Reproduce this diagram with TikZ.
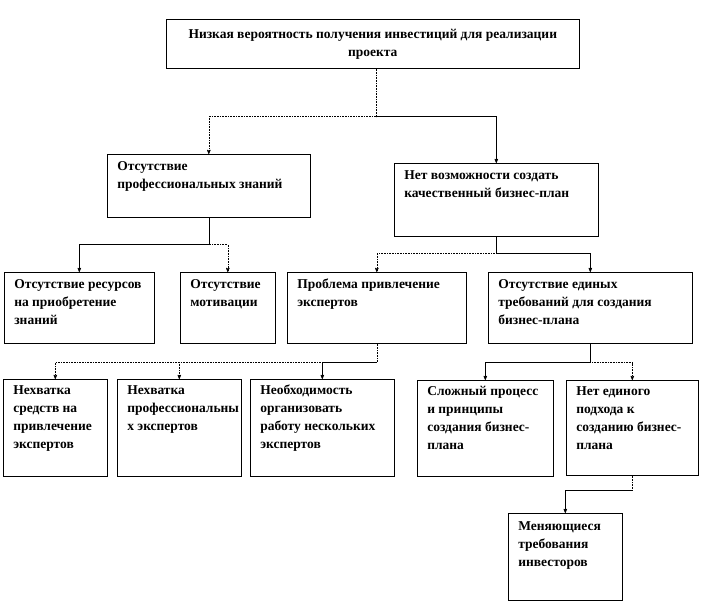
\documentclass[tikz,border=0pt]{standalone}
\usepackage{fontspec}
\setmainfont{Liberation Serif}
\usetikzlibrary{arrows, positioning}

\begin{document}
\begin{tikzpicture}[x=1pt,y=-1pt,>=stealth',line width=0.6pt]
  \tikzstyle{cause} = [draw, rectangle, anchor=north west, inner sep=0pt]
  \tikzstyle{say} = [anchor=north west, align=left, inner sep=0pt,
                     font=\fontsize{13.5}{18}\selectfont\bfseries]
  \tikzstyle{link} = [->]
  \tikzstyle{dotlink} = [->, densely dotted]
  \useasboundingbox (0,0) rectangle (701,604);

  % level 1
  \node [cause, minimum width=413, minimum height=49, align=center,
         font=\fontsize{13.5}{18}\selectfont\bfseries] (risk) at (166,19)
        {Низкая вероятность получения инвестиций  для реализации\\проекта};

  % level 2
  \node [cause, minimum width=203, minimum height=63] (knowledge) at (107,154) {};
  \node [say] (knowledge-t) at ([shift={(10,7)}]knowledge.north west)
        {Отсутствие\\профессиональных  знаний};
  \node [cause, minimum width=204, minimum height=73] (plan) at (394,163) {};
  \node [say] (plan-t) at ([shift={(10,7)}]plan.north west)
        {Нет возможности создать\\качественный бизнес-план};

  % level 3
  \node [cause, minimum width=150, minimum height=71] (resources) at (4,272) {};
  \node [say] (resources-t) at ([shift={(10,7)}]resources.north west)
        {Отсутствие ресурсов\\на приобретение\\знаний};
  \node [cause, minimum width=95, minimum height=71] (motivation) at (180,272) {};
  \node [say] (motivation-t) at ([shift={(10,7)}]motivation.north west)
        {Отсутствие\\мотивации};
  \node [cause, minimum width=179, minimum height=71] (experts) at (287,272) {};
  \node [say] (experts-t) at ([shift={(10,7)}]experts.north west)
        {Проблема привлечение\\экспертов};
  \node [cause, minimum width=204, minimum height=71] (rules) at (488,272) {};
  \node [say] (rules-t) at ([shift={(10,7)}]rules.north west)
        {Отсутствие единых\\требований для создания\\бизнес-плана};

  % level 4
  \node [cause, minimum width=104, minimum height=97] (funds) at (3,379) {};
  \node [say] (funds-t) at ([shift={(10,6)}]funds.north west)
        {Нехватка\\средств на\\привлечение\\экспертов};
  \node [cause, minimum width=124, minimum height=97] (staff) at (117,379) {};
  \node [say] (staff-t) at ([shift={(10,6)}]staff.north west)
        {Нехватка\\профессиональны\\х экспертов};
  \node [cause, minimum width=144, minimum height=97] (teamwork) at (250,379) {};
  \node [say] (teamwork-t) at ([shift={(10,6)}]teamwork.north west)
        {Необходимость\\организовать\\работу нескольких\\экспертов};
  \node [cause, minimum width=136, minimum height=96] (process) at (417,380) {};
  \node [say] (process-t) at ([shift={(10,6)}]process.north west)
        {Сложный процесс\\и принципы\\создания бизнес-\\плана};
  \node [cause, minimum width=132, minimum height=95] (approach) at (566,380) {};
  \node [say] (approach-t) at ([shift={(10,6)}]approach.north west)
        {Нет единого\\подхода к\\созданию бизнес-\\плана};

  % level 5
  \node [cause, minimum width=114, minimum height=87] (investors) at (508,513) {};
  \node [say] (investors-t) at ([shift={(10,8)}]investors.north west)
        {Меняющиеся\\требования\\инвесторов};

  % junctions
  \coordinate (j0) at ([shift={(3,48)}]risk.south);
  \coordinate (j1) at ([shift={(0,27)}]knowledge.south);
  \coordinate (j2) at ([shift={(0,17)}]plan.south);
  \coordinate (j3) at ([shift={(0,19)}]experts.south);
  \coordinate (j4) at ([shift={(0,19)}]rules.south);
  \coordinate (j5) at ([shift={(0,15)}]approach.south);

  % connectors
  \draw [densely dotted] (j0 |- risk.south) -- (j0);
  \draw [dotlink] (j0) -| (knowledge.north);
  \draw [link] (j0) -| (plan.north);

  \draw (knowledge.south) -- (j1);
  \draw [link] (j1) -| (resources.north);
  \draw [dotlink] (j1) -| (motivation.north);

  \draw (plan.south) -- (j2);
  \draw [dotlink] (j2) -| (experts.north);
  \draw [link] (j2) -| (rules.north);

  \draw [densely dotted] (experts.south) -- (j3);
  \draw [dotlink] (j3) -| (funds.north);
  \draw [dotlink] (j3) -| (staff.north);
  \draw [link] (j3) -| (teamwork.north);

  \draw (rules.south) -- (j4);
  \draw [link] (j4) -| (process.north);
  \draw [dotlink] (j4) -| (approach.north);

  \draw [densely dotted] (approach.south) -- (j5);
  \draw [link] (j5) -| (investors.north);
\end{tikzpicture}
\end{document}
